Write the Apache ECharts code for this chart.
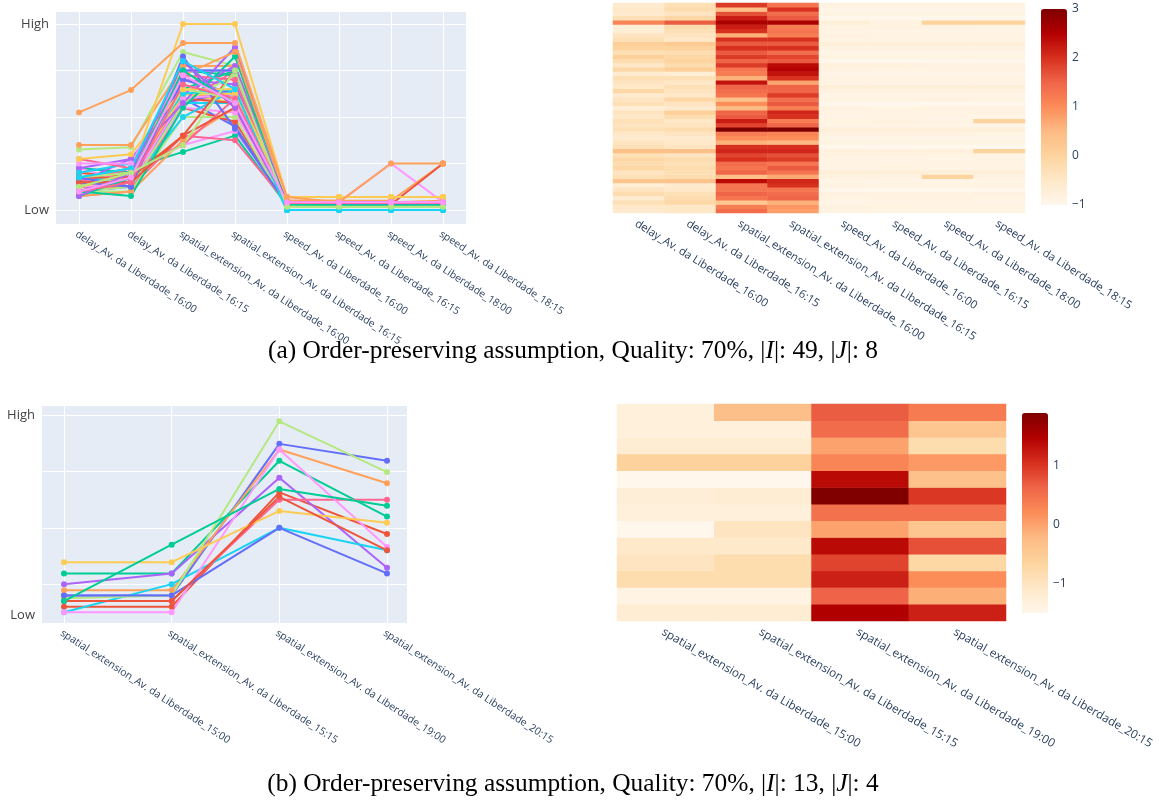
<!DOCTYPE html>
<html>
<head>
<meta charset="utf-8">
<title>Order-preserving biclusters</title>
<script src="https://cdn.jsdelivr.net/npm/echarts@6/dist/echarts.min.js"></script>
<style>
  html, body { margin: 0; padding: 0; background: #ffffff; }
  #chart { width: 1159px; height: 802px; }
</style>
</head>
<body>
<div id="chart"></div>
<script>
// ---- data -------------------------------------------------------------
const topCategories = [
  'delay_Av. da Liberdade_16:00',
  'delay_Av. da Liberdade_16:15',
  'spatial_extension_Av. da Liberdade_16:00',
  'spatial_extension_Av. da Liberdade_16:15',
  'speed_Av. da Liberdade_16:00',
  'speed_Av. da Liberdade_16:15',
  'speed_Av. da Liberdade_18:00',
  'speed_Av. da Liberdade_18:15'
];

// one row per bicluster member (49 rows, 8 columns, standardised values)
const topRows = [
  [-0.6, -0.5, 1.4, 0.8, -0.85, -0.85, -0.85, -0.85],
  [-0.5, -0.5, 1.2, 0.9, -0.83, -0.85, -0.85, -0.85],
  [-0.3, -0.1, 0.25, 0.6, -0.9, -0.9, -0.88, -0.9],
  [-0.6, -0.2, 1.3, 1.5, -0.85, -0.83, -0.83, -0.85],
  [-0.2, -0.3, 1.5, 1.4, -0.8, -0.83, -0.83, -0.8],
  [-0.4, -0.5, 1.3, 1.3, -1.0, -1.0, -1.0, -1.0],
  [-0.7, -0.6, 1.3, 2.0, -0.85, -0.85, -0.85, -0.85],
  [0.3, 0.35, 2.4, 2.1, -0.93, -0.93, -0.93, -0.93],
  [-0.3, -0.2, 0.4, 0.7, -0.83, -0.83, 0.0, -0.83],
  [-0.4, -0.3, 1.5, 1.3, -0.72, -0.72, -0.72, -0.72],
  [-0.1, -0.2, 1.3, 1.6, -0.88, -0.85, -0.88, -0.85],
  [-0.2, -0.3, 1.4, 1.3, -0.85, -0.85, -0.85, -0.85],
  [-0.1, -0.2, 2.0, 1.9, -0.88, -0.9, -0.9, -0.88],
  [-0.3, -0.4, 1.8, 1.7, -0.83, -0.83, -0.85, -0.85],
  [0.4, 0.4, 2.1, 2.1, -0.8, -0.8, -0.8, 0.0],
  [-0.3, -0.4, 2.0, 2.0, -1.0, -1.0, -1.0, -1.0],
  [-0.4, -0.5, 0.6, 0.5, -0.85, -0.88, -0.85, -0.85],
  [-0.6, -0.6, 1.0, 1.0, -0.93, -0.93, -0.93, -0.93],
  [-0.5, -0.4, 1.2, 1.1, -0.83, -0.83, -0.83, -0.85],
  [-0.3, -0.2, 3.0, 3.0, -0.72, -0.72, -0.72, -0.72],
  [-0.4, -0.4, 1.8, 1.5, -0.9, -0.9, -0.9, -0.9],
  [-0.3, -0.5, 2.2, 1.2, -0.85, -0.83, -0.88, 0.0],
  [-0.5, -0.2, 1.6, 2.0, -0.9, -0.88, -0.9, -0.9],
  [-0.4, 0.1, 1.5, 2.1, -0.85, -0.85, -0.85, -0.83],
  [-0.7, -0.6, 0.5, 1.2, -0.83, -0.85, -0.83, -0.83],
  [-0.3, -0.4, 1.0, 1.6, -1.0, -1.0, -1.0, -1.0],
  [-0.4, -0.1, 0.4, 1.4, -0.85, -0.85, -0.83, -0.85],
  [-0.6, -0.5, 1.3, 1.9, -0.93, -0.93, -0.93, -0.93],
  [-0.1, -0.4, 1.4, 1.5, -0.83, -0.83, -0.83, -0.83],
  [-0.5, -0.3, 1.5, 1.5, -0.72, -0.72, -0.72, -0.72],
  [-0.4, -0.5, 2.3, 0.75, -0.88, -0.88, -0.88, -0.88],
  [-0.3, -0.3, 0.6, 2.0, -0.85, -0.85, -0.85, -0.85],
  [-0.6, -0.7, 1.2, 2.3, -0.9, -0.9, -0.9, -0.9],
  [-0.1, 0.1, 1.3, 2.5, -0.83, -0.85, -0.83, -0.83],
  [-0.5, -0.2, 1.9, 2.4, -0.8, -0.8, -0.83, -0.83],
  [-0.2, 0.0, 1.5, 1.6, -1.0, -1.0, -1.0, -1.0],
  [0.1, -0.1, 1.9, 1.8, -0.85, -0.85, -0.85, -0.85],
  [-0.3, -0.2, 1.6, 1.4, -0.93, -0.93, -0.93, -0.93],
  [0.0, 0.0, 2.0, 2.0, -0.83, -0.83, -0.83, -0.83],
  [0.1, 0.2, 1.6, 1.6, -0.72, -0.72, -0.72, -0.72],
  [-0.3, -0.5, 2.0, 2.0, -0.85, -0.85, -0.85, -0.85],
  [-0.4, -0.4, 0.6, 1.2, -0.83, -0.85, -0.85, -0.85],
  [-0.7, -0.3, 2.0, 1.3, -0.88, -0.9, -0.9, -0.9],
  [-0.7, -0.2, 2.2, 1.2, -0.85, -0.83, -0.83, -0.85],
  [1.1, 1.58, 2.59, 2.59, -0.72, -0.83, 0.0, 0.0],
  [-0.3, -0.1, 2.2, 1.6, -1.0, -1.0, -1.0, -1.0],
  [-0.6, -0.4, 1.7, 1.4, -0.85, -0.85, -0.85, -0.85],
  [-0.5, -0.2, 0.4, 2.0, -0.93, -0.93, -0.93, -0.93],
  [-0.6, -0.3, 1.9, 1.3, -0.83, -0.83, -0.83, -0.83]
];

const bottomCategories = [
  'spatial_extension_Av. da Liberdade_15:00',
  'spatial_extension_Av. da Liberdade_15:15',
  'spatial_extension_Av. da Liberdade_19:00',
  'spatial_extension_Av. da Liberdade_20:15'
];

// 13 rows, 4 columns
const bottomRows = [
  [-1.2, -1.2, 1.49, 1.19],
  [-1.4, -1.4, 0.63, -0.11],
  [-0.81, -0.81, 1.19, 0.2],
  [-1.0, -0.81, 0.89, -0.71],
  [-1.11, -1.11, 1.39, 0.79],
  [-1.5, -1.0, 0.0, -0.4],
  [-1.3, -1.3, 0.5, 0.5],
  [-1.25, -1.2, 1.89, 0.99],
  [-1.5, -1.5, 1.39, -0.34],
  [-0.61, -0.61, 0.3, 0.09],
  [-1.2, -1.2, 0.0, -0.81],
  [-1.3, -1.3, 0.55, -0.4],
  [-1.3, -0.3, 0.69, 0.39]
];

// y ranges of the two profile plots, their High/Low tick positions and colour ranges
const topRange = [-1.30, 3.28];
const topTicks = { low: -1, high: 3 };
const topColorRange = [-1, 3];
const bottomRange = [-1.69, 2.18];
const bottomTicks = { low: -1.55, high: 2 };
const bottomColorRange = [-1.5, 1.9];

const captionA = '(a) Order-preserving assumption, Quality: 70%, |{i|I}|: 49, |{i|J}|: 8';
const captionB = '(b) Order-preserving assumption, Quality: 70%, |{i|I}|: 13, |{i|J}|: 4';

// ---- style ------------------------------------------------------------
const palette = ['#636efa', '#EF553B', '#00cc96', '#ab63fa', '#FFA15A',
                 '#19d3f3', '#FF6692', '#B6E880', '#FF97FF', '#FECB52'];
const orRd = ['#fff7ec', '#fee8c8', '#fdd49e', '#fdbb84', '#fc8d59',
              '#ef6548', '#d7301f', '#b30000', '#7f0000'];
const plotBg = '#E5ECF6';
const tickColor = '#2a3f5f';
const uiFont = 'Open Sans';

function catLabel(size, angle) {
  return {
    show: true, interval: 0, rotate: -angle, margin: 5,
    verticalAlign: 'top',
    fontFamily: uiFont, fontSize: size, color: tickColor
  };
}

function highLowLabel(ticks) {
  return {
    show: true, margin: 7,
    customValues: [ticks.low, ticks.high],
    fontFamily: uiFont, fontSize: 13, color: '#444',
    formatter: function (v) {
      if (Math.abs(v - ticks.high) < 1e-6) return 'High';
      if (Math.abs(v - ticks.low) < 1e-6) return 'Low';
      return '';
    }
  };
}

function colorbarLabel() {
  return {
    show: true, margin: 5,
    fontFamily: uiFont, fontSize: 12, color: tickColor,
    formatter: function (v) {
      if (Math.abs(v - Math.round(v)) > 1e-6) return '';
      return v < 0 ? '\u2212' + Math.abs(v) : String(v);
    }
  };
}

function heatData(rows) {
  const out = [];
  rows.forEach(function (row, r) {
    row.forEach(function (v, c) { out.push([c, r, v]); });
  });
  return out;
}

function rowIds(rows) { return rows.map(function (_, i) { return String(i); }); }

function profileSeries(rows, axisIdx) {
  return rows.map(function (row, i) {
    const col = palette[i % palette.length];
    return {
      type: 'line', xAxisIndex: axisIdx, yAxisIndex: axisIdx,
      data: row, symbol: 'circle', symbolSize: 6, showSymbol: true,
      lineStyle: { width: 2, color: col }, itemStyle: { color: col },
      emphasis: { disabled: true }, animation: false, z: 2
    };
  });
}

const hidden = { show: false };
const noAxisDeco = { axisLine: hidden, axisTick: hidden };

// ---- layout -----------------------------------------------------------
const grids = [
  { left: 56, top: 11, width: 410, height: 213, show: true, backgroundColor: plotBg, borderWidth: 0 },
  { left: 79, top: 11, width: 364, height: 213 },
  { left: 613, top: 3, width: 412, height: 210 },
  { left: 1041, top: 9, width: 26, height: 196 },
  { left: 42, top: 405, width: 365, height: 218, show: true, backgroundColor: plotBg, borderWidth: 0 },
  { left: 64, top: 405, width: 323, height: 218 },
  { left: 617, top: 404, width: 389, height: 217 },
  { left: 1022, top: 413, width: 26, height: 200 }
];

const whiteGrid = { show: true, lineStyle: { color: '#ffffff', width: 1 } };

const xAxes = [
  { gridIndex: 0, type: 'value', min: 0, max: 1, show: false },
  Object.assign({ gridIndex: 1, type: 'category', data: topCategories, boundaryGap: false,
    splitLine: whiteGrid, axisLabel: catLabel(10.4, 33) }, noAxisDeco),
  Object.assign({ gridIndex: 2, type: 'category', data: topCategories,
    splitLine: hidden, axisLabel: catLabel(11.3, 32) }, noAxisDeco),
  { gridIndex: 3, type: 'value', min: 0, max: 1, show: false },
  { gridIndex: 4, type: 'value', min: 0, max: 1, show: false },
  Object.assign({ gridIndex: 5, type: 'category', data: bottomCategories, boundaryGap: false,
    splitLine: whiteGrid, axisLabel: catLabel(10.4, 33) }, noAxisDeco),
  Object.assign({ gridIndex: 6, type: 'category', data: bottomCategories,
    splitLine: hidden, axisLabel: catLabel(11.8, 30) }, noAxisDeco),
  { gridIndex: 7, type: 'value', min: 0, max: 1, show: false }
];

const yAxes = [
  Object.assign({ gridIndex: 0, type: 'value', min: topRange[0], max: topRange[1],
    splitLine: whiteGrid, axisLabel: highLowLabel(topTicks) }, noAxisDeco),
  { gridIndex: 1, type: 'value', min: topRange[0], max: topRange[1], show: false },
  { gridIndex: 2, type: 'category', data: rowIds(topRows), show: false },
  Object.assign({ gridIndex: 3, type: 'value', position: 'right',
    min: topColorRange[0], max: topColorRange[1], splitNumber: 4,
    splitLine: hidden, axisLabel: colorbarLabel() }, noAxisDeco),
  Object.assign({ gridIndex: 4, type: 'value', min: bottomRange[0], max: bottomRange[1],
    splitLine: whiteGrid, axisLabel: highLowLabel(bottomTicks) }, noAxisDeco),
  { gridIndex: 5, type: 'value', min: bottomRange[0], max: bottomRange[1], show: false },
  { gridIndex: 6, type: 'category', data: rowIds(bottomRows), show: false },
  Object.assign({ gridIndex: 7, type: 'value', position: 'right',
    min: bottomColorRange[0], max: bottomColorRange[1], splitNumber: 3,
    splitLine: hidden, axisLabel: colorbarLabel() }, noAxisDeco)
];

const topLines = profileSeries(topRows, 1);
const bottomLines = profileSeries(bottomRows, 5);

const heatTop = {
  type: 'heatmap', xAxisIndex: 2, yAxisIndex: 2,
  data: heatData(topRows), emphasis: { disabled: true }, animation: false
};
const heatBottom = {
  type: 'heatmap', xAxisIndex: 6, yAxisIndex: 6,
  data: heatData(bottomRows), emphasis: { disabled: true }, animation: false
};

const series = topLines.concat([heatTop]).concat(bottomLines).concat([heatBottom]);
const heatTopIndex = topLines.length;
const heatBottomIndex = series.length - 1;

const captionSize = 25.4;
const captionStyle = {
  fontFamily: 'Liberation Serif', fontSize: captionSize, fontWeight: 'normal', color: '#000000',
  rich: { i: { fontFamily: 'Liberation Serif', fontSize: captionSize, fontStyle: 'italic', color: '#000000' } }
};

const option = {
  backgroundColor: '#ffffff',
  animation: false,
  title: [
    { text: captionA, left: 573, top: 339, textAlign: 'center', padding: 0, textStyle: captionStyle },
    { text: captionB, left: 573, top: 772, textAlign: 'center', padding: 0, textStyle: captionStyle }
  ],
  grid: grids,
  xAxis: xAxes,
  yAxis: yAxes,
  visualMap: [
    { type: 'continuous', seriesIndex: heatTopIndex, min: topColorRange[0], max: topColorRange[1],
      inRange: { color: orRd }, left: 1041, top: 9, itemWidth: 26, itemHeight: 196,
      padding: 0, calculable: false, hoverLink: false, text: null, showLabel: false },
    { type: 'continuous', seriesIndex: heatBottomIndex, min: bottomColorRange[0], max: bottomColorRange[1],
      inRange: { color: orRd }, left: 1022, top: 413, itemWidth: 26, itemHeight: 200,
      padding: 0, calculable: false, hoverLink: false, text: null, showLabel: false }
  ],
  series: series
};

const chart = echarts.init(document.getElementById('chart'), null, { renderer: 'canvas' });
chart.setOption(option);
</script>
</body>
</html>
